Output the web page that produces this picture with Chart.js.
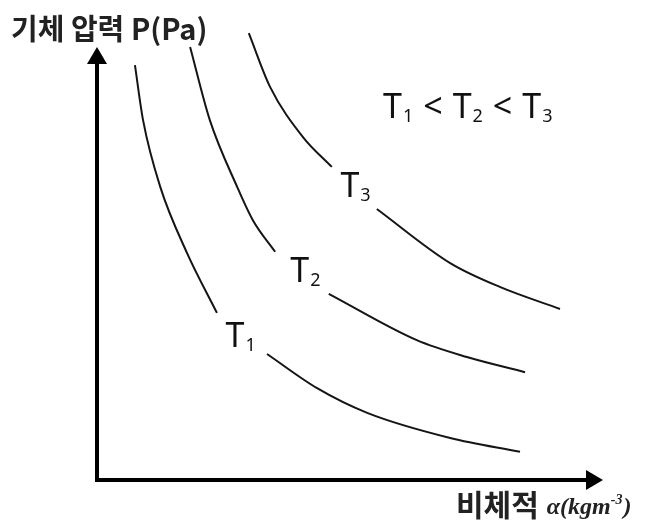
<!DOCTYPE html>
<html>
<head>
<meta charset="utf-8">
<script src="https://cdn.jsdelivr.net/npm/chart.js@4"></script>
<style>
  html, body { margin: 0; padding: 0; background: #fff; }
  #wrap { width: 647px; height: 532px; }
</style>
</head>
<body>
<div id="wrap"><canvas id="pv_chart"></canvas></div>
<script>
// isotherm curves (arbitrary units: x = volume, y = pressure)
// each curve has a gap where its label sits
const t1_upper_x = [0.75, 0.91, 1.25, 1.78, 2.37]
const t1_upper_y = [9.58, 8.31, 6.77, 5.24, 3.86]
const t1_lower_x = [3.36, 4.35, 5.34, 6.98, 8.36]
const t1_lower_y = [2.91, 2.12, 1.55, 0.97, 0.65]

const t2_upper_x = [1.84, 2.23, 2.77, 3.08, 3.52]
const t2_upper_y = [10.0, 8.31, 6.77, 6.0, 5.27]
const t2_lower_x = [4.58, 6.32, 7.31, 8.46]
const t2_lower_y = [4.30, 3.23, 2.84, 2.49]

const t3_upper_x = [3.00, 3.42, 4.07, 4.64]
const t3_upper_y = [10.32, 9.08, 7.92, 7.23]
const t3_lower_x = [5.53, 6.98, 7.96, 9.15]
const t3_lower_y = [6.26, 5.01, 4.46, 3.95]

// curve labels
const label_names = ["1", "2", "3"]
const label_x = [2.83, 4.11, 5.10]
const label_y = [3.35, 4.85, 6.81]

const y_title = "기체 압력 P(Pa)"
const x_title_kr = "비체적"
const x_title_sym = "α(kgm"
const x_title_exp = "-3"

const axis_x_end = 10
const axis_y_end = 10

function toPoints(xs, ys) {
    let pts = []
    for (let i = 0; i < xs.length; i++) {
        pts.push({x: xs[i], y: ys[i]})
    }
    return pts
}

function curve(xs, ys) {
    return {
        data: toPoints(xs, ys),
        showLine: true,
        borderColor: '#151515',
        borderWidth: 2,
        pointRadius: 0,
        cubicInterpolationMode: 'monotone',
        clip: false
    }
}

function drawT(ctx, x, y, sub) {
    // big T with a subscript digit, centred on x
    ctx.font = '34px "Noto Sans"'
    let tw = ctx.measureText('T').width
    ctx.font = '18px "Noto Sans"'
    let sw = ctx.measureText(sub).width
    let left = x - (tw + sw) / 2
    ctx.font = '34px "Noto Sans"'
    ctx.fillText('T', left, y + 12)
    ctx.font = '18px "Noto Sans"'
    ctx.fillText(sub, left + tw + 1, y + 16)
    return tw + sw + 1
}

const decorPlugin = {
    id: 'decor',
    afterDatasetsDraw(chart) {
        const ctx = chart.ctx
        const xs = chart.scales.x
        const ys = chart.scales.y
        const ox = xs.getPixelForValue(0)
        const oy = ys.getPixelForValue(0)
        const xe = xs.getPixelForValue(axis_x_end)
        const ye = ys.getPixelForValue(axis_y_end)

        ctx.save()
        ctx.fillStyle = '#000'
        ctx.strokeStyle = '#000'
        ctx.lineWidth = 4
        ctx.lineCap = 'square'
        ctx.beginPath()
        ctx.moveTo(ox, ye + 12)
        ctx.lineTo(ox, oy)
        ctx.lineTo(xe - 12, oy)
        ctx.stroke()
        // arrow heads
        ctx.beginPath()
        ctx.moveTo(ox, ye)
        ctx.lineTo(ox - 10, ye + 17)
        ctx.lineTo(ox + 10, ye + 17)
        ctx.closePath()
        ctx.fill()
        ctx.beginPath()
        ctx.moveTo(xe, oy)
        ctx.lineTo(xe - 17, oy - 10)
        ctx.lineTo(xe - 17, oy + 10)
        ctx.closePath()
        ctx.fill()

        // curve labels
        ctx.fillStyle = '#111'
        ctx.textBaseline = 'alphabetic'
        for (let i = 0; i < label_names.length; i++) {
            drawT(ctx, xs.getPixelForValue(label_x[i]), ys.getPixelForValue(label_y[i]), label_names[i])
        }

        // T1 < T2 < T3
        let px = 383
        let py = 106
        for (let i = 0; i < label_names.length; i++) {
            ctx.font = '34px "Noto Sans"'
            let tw = ctx.measureText('T').width
            ctx.fillText('T', px, py + 12)
            ctx.font = '18px "Noto Sans"'
            ctx.fillText(label_names[i], px + tw + 1, py + 16)
            px += tw + ctx.measureText(label_names[i]).width + 1
            if (i < label_names.length - 1) {
                ctx.font = '34px "Noto Sans"'
                ctx.fillText('<', px + 10, py + 12)
                px += ctx.measureText('<').width + 20
            }
        }

        // axis titles
        ctx.fillStyle = '#222'
        ctx.font = 'bold 29px "Noto Sans CJK KR"'
        ctx.fillText(y_title, 11, 40)
        ctx.font = 'bold 30px "Noto Sans CJK KR"'
        ctx.fillText(x_title_kr, 456, 516)
        let kw = ctx.measureText(x_title_kr).width
        ctx.font = 'bold italic 24px "Liberation Serif"'
        let sx = 456 + kw + 8
        ctx.fillText(x_title_sym, sx, 514)
        sx += ctx.measureText(x_title_sym).width
        ctx.font = 'bold italic 14px "Liberation Serif"'
        ctx.fillText(x_title_exp, sx, 504)
        sx += ctx.measureText(x_title_exp).width + 1
        ctx.font = 'bold italic 24px "Liberation Serif"'
        ctx.fillText(')', sx, 514)
        ctx.restore()
    }
}

const pv_config = {
    type: 'scatter',
    data: {
        datasets: [
            curve(t1_upper_x, t1_upper_y),
            curve(t1_lower_x, t1_lower_y),
            curve(t2_upper_x, t2_upper_y),
            curve(t2_lower_x, t2_lower_y),
            curve(t3_upper_x, t3_upper_y),
            curve(t3_lower_x, t3_lower_y)
        ]
    },
    options: {
        responsive: true,
        maintainAspectRatio: false,
        animation: false,
        layout: {
            padding: {left: 97, right: 44, top: 21, bottom: 52}
        },
        plugins: {
            legend: {display: false},
            tooltip: {enabled: false}
        },
        scales: {
            x: {type: 'linear', min: 0, max: 10, display: false},
            y: {type: 'linear', min: 0, max: 10.6, display: false}
        }
    },
    plugins: [decorPlugin]
}

const pv_chart = new Chart(document.getElementById('pv_chart'), pv_config)
</script>
</body>
</html>
